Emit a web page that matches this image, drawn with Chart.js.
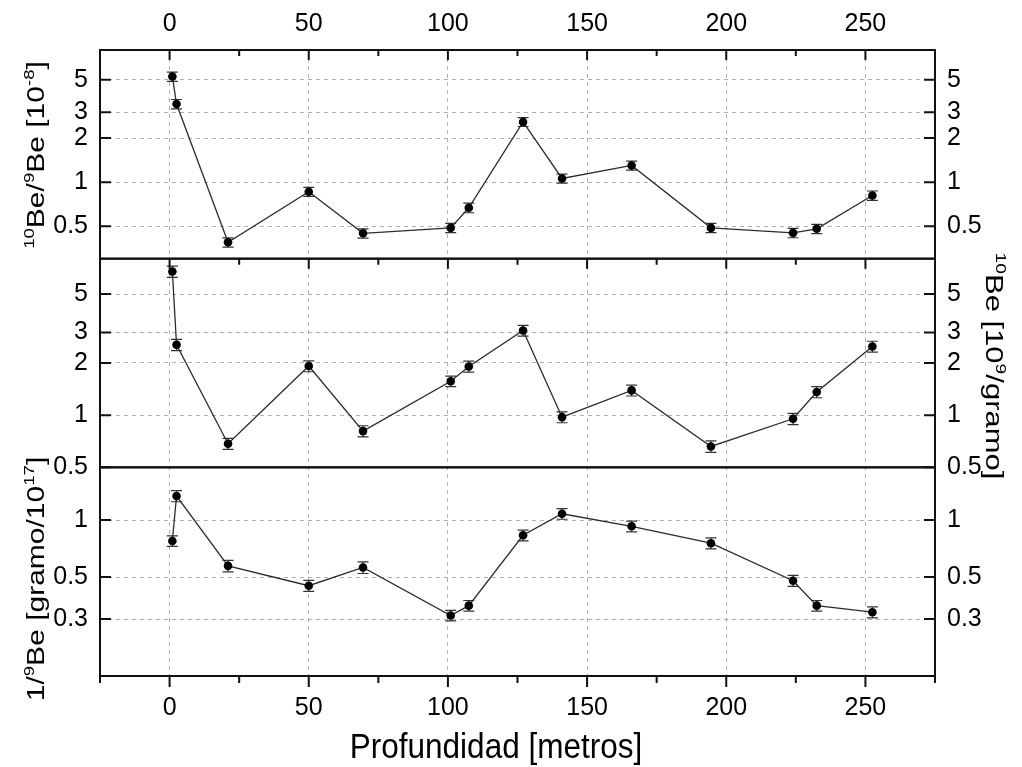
<!DOCTYPE html>
<html>
<head>
<meta charset="utf-8">
<script src="https://cdn.jsdelivr.net/npm/chart.js@4.4.1/dist/chart.umd.min.js"></script>
<style>
  html, body { margin: 0; padding: 0; background: #fff; }
</style>
</head>
<body>
<canvas id="chart" width="1022" height="767"></canvas>
<script>
// depth of each sample, metres
var depth = [1, 2.5, 21, 50, 69.5, 101, 107.5, 127, 141, 166, 194.5, 224, 232.5, 252.5];

// 10Be/9Be [10^-8]
var ratio    = [5.27, 3.42, 0.388, 0.86, 0.447, 0.487, 0.668, 2.58, 1.06, 1.30, 0.487, 0.45, 0.48, 0.81];
var ratioErr = [0.38, 0.25, 0.028, 0.06, 0.032, 0.035, 0.05, 0.18, 0.075, 0.09, 0.035, 0.033, 0.035, 0.06];

// 10Be [10^9/gramo]
var conc    = [6.74, 2.55, 0.684, 1.92, 0.809, 1.57, 1.91, 3.08, 0.974, 1.39, 0.66, 0.953, 1.36, 2.49];
var concErr = [0.5, 0.19, 0.05, 0.14, 0.06, 0.11, 0.14, 0.22, 0.07, 0.1, 0.05, 0.07, 0.1, 0.18];

// 1/9Be [gramo/10^17]
var inv    = [0.776, 1.34, 0.573, 0.45, 0.562, 0.313, 0.353, 0.831, 1.08, 0.927, 0.755, 0.478, 0.353, 0.326];
var invErr = [0.05, 0.09, 0.04, 0.03, 0.04, 0.02, 0.023, 0.055, 0.07, 0.06, 0.05, 0.032, 0.023, 0.022];

var xTicks = [0, 50, 100, 150, 200, 250];
var ratioTicks = [0.5, 1, 2, 3, 5];
var concTicks = [0.5, 1, 2, 3, 5];
var invTicks = [0.3, 0.5, 1];

var FONT = '"Liberation Sans", Arial, sans-serif';
var NARROW = '"Liberation Sans Narrow", "Arial Narrow", "Liberation Sans", sans-serif';

function points(vals, errs) {
  return depth.map(function (d, i) { return { x: d, y: vals[i], e: errs[i] }; });
}

function series(vals, errs, axis) {
  return {
    data: points(vals, errs),
    yAxisID: axis,
    xAxisID: 'x',
    borderColor: '#2b2b2b',
    borderWidth: 1.3,
    pointRadius: 4.3,
    pointBackgroundColor: '#000',
    pointBorderWidth: 0,
    tension: 0
  };
}

function yAxis(pos, min, max, ticks, weight, grid) {
  return {
    type: 'logarithmic',
    position: pos,
    stack: pos,
    stackWeight: 1,
    weight: weight,
    min: min,
    max: max,
    afterBuildTicks: function (ax) { ax.ticks = ticks.map(function (v) { return { value: v }; }); },
    afterFit: function (ax) { ax.width = pos === 'left' ? 100 : 87; },
    ticks: {
      callback: function (v) { return String(v); },
      font: { size: 25, family: NARROW },
      color: '#000',
      padding: 12,
      autoSkip: false,
      maxRotation: 0
    },
    grid: { display: grid, color: '#b0b0b0', lineWidth: 1, drawTicks: false },
    border: { display: false, dash: [4, 4] }
  };
}

function xAxis(pos, grid) {
  return {
    type: 'linear',
    position: pos,
    min: -25,
    max: 275,
    afterBuildTicks: function (ax) { ax.ticks = xTicks.map(function (v) { return { value: v }; }); },
    afterFit: function (ax) { ax.height = pos === 'top' ? 50 : 91; },
    ticks: {
      font: { size: 25, family: NARROW },
      color: '#000',
      padding: pos === 'top' ? 11 : 17,
      maxRotation: 0,
      autoSkip: false
    },
    grid: { display: grid, color: '#b0b0b0', lineWidth: 1, drawTicks: false },
    border: { display: false, dash: [4, 4] }
  };
}

// text with superscripts; sx squeezes the screen x direction
function richText(ctx, segs, cx, cy, angle, size, sx) {
  ctx.save();
  ctx.translate(cx, cy);
  ctx.scale(sx, 1);
  ctx.rotate(angle);
  ctx.fillStyle = '#000';
  ctx.textBaseline = 'alphabetic';
  var total = 0;
  segs.forEach(function (g) {
    ctx.font = (g.sup ? size * 0.62 : size) + 'px ' + FONT;
    g.w = ctx.measureText(g.t).width;
    total += g.w;
  });
  var xx = -total / 2;
  segs.forEach(function (g) {
    ctx.font = (g.sup ? size * 0.62 : size) + 'px ' + FONT;
    ctx.fillText(g.t, xx, g.sup ? -size * 0.42 : 0);
    xx += g.w;
  });
  ctx.restore();
}

var errorBars = {
  id: 'errorBars',
  beforeDatasetsDraw: function (chart) {
    var ctx = chart.ctx, x = chart.scales.x;
    ctx.save();
    ctx.strokeStyle = '#333';
    ctx.lineWidth = 1.2;
    chart.data.datasets.forEach(function (ds) {
      var ys = chart.scales[ds.yAxisID];
      ds.data.forEach(function (p) {
        var px = x.getPixelForValue(p.x);
        var y0 = ys.getPixelForValue(p.y - p.e), y1 = ys.getPixelForValue(p.y + p.e);
        ctx.beginPath();
        ctx.moveTo(px, y0); ctx.lineTo(px, y1);
        ctx.moveTo(px - 5.5, y0); ctx.lineTo(px + 5.5, y0);
        ctx.moveTo(px - 5.5, y1); ctx.lineTo(px + 5.5, y1);
        ctx.stroke();
      });
    });
    ctx.restore();
  }
};

var frame = {
  id: 'frame',
  afterDatasetsDraw: function (chart) {
    var ctx = chart.ctx, a = chart.chartArea, x = chart.scales.x;
    var panels = [chart.scales.yTop, chart.scales.yMid, chart.scales.yBot];
    ctx.save();
    ctx.strokeStyle = '#111';
    ctx.lineWidth = 2;
    panels.forEach(function (s) {
      ctx.strokeRect(a.left, s.top, a.right - a.left, s.bottom - s.top);
      ctx.beginPath();
      s.ticks.forEach(function (t) {
        var y = s.getPixelForValue(t.value);
        ctx.moveTo(a.left, y); ctx.lineTo(a.left + 11, y);
        ctx.moveTo(a.right, y); ctx.lineTo(a.right - 11, y);
      });
      ctx.stroke();
    });
    ctx.beginPath();
    for (var v = x.min; v <= x.max; v += 25) {
      var px = x.getPixelForValue(v), len = v % 50 === 0 ? 10 : 6;
      ctx.moveTo(px, panels[0].top); ctx.lineTo(px, panels[0].top + len);
      ctx.moveTo(px, panels[1].top); ctx.lineTo(px, panels[1].top + len);
      ctx.moveTo(px, a.bottom); ctx.lineTo(px, a.bottom + len + 1);
    }
    ctx.stroke();
    ctx.restore();
  },
  afterDraw: function (chart) {
    var ctx = chart.ctx;
    richText(ctx, [{ t: '10', sup: true }, { t: 'Be/' }, { t: '9', sup: true }, { t: 'Be [10' }, { t: '-8', sup: true }, { t: ']' }],
      44, 155, -Math.PI / 2, 30, 0.8);
    richText(ctx, [{ t: '1/' }, { t: '9', sup: true }, { t: 'Be [gramo/10' }, { t: '17', sup: true }, { t: ']' }],
      44, 579, -Math.PI / 2, 30, 0.8);
    richText(ctx, [{ t: '10', sup: true }, { t: 'Be [10' }, { t: '9', sup: true }, { t: '/gramo]' }],
      986, 366, Math.PI / 2, 31, 0.8);
    richText(ctx, [{ t: 'Profundidad [metros]' }], 496, 758, 0, 35, 0.9);
  }
};

var chart = new Chart(document.getElementById('chart').getContext('2d'), {
  type: 'line',
  data: {
    datasets: [
      series(ratio, ratioErr, 'yTop'),
      series(conc, concErr, 'yMid'),
      series(inv, invErr, 'yBot')
    ]
  },
  options: {
    responsive: false,
    animation: false,
    layout: { padding: 0 },
    plugins: { legend: { display: false }, tooltip: { enabled: false } },
    scales: {
      x: xAxis('bottom', true),
      xTop: xAxis('top', false),
      yTop: yAxis('left', 0.3, 8, ratioTicks, 3, true),
      yMid: yAxis('left', 0.5, 8, concTicks, 2, true),
      yBot: yAxis('left', 0.15, 1.9, invTicks, 1, true),
      yTopR: yAxis('right', 0.3, 8, ratioTicks, 1, false),
      yMidR: yAxis('right', 0.5, 8, concTicks, 2, false),
      yBotR: yAxis('right', 0.15, 1.9, invTicks, 3, false)
    }
  },
  plugins: [errorBars, frame]
});
</script>
</body>
</html>
